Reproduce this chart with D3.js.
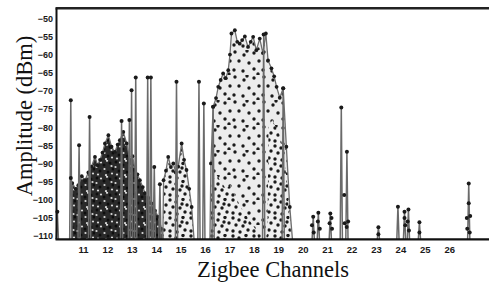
<!DOCTYPE html>
<html>
<head>
<meta charset="utf-8">
<script src="https://cdn.jsdelivr.net/npm/d3@7"></script>
<style>
  body { margin: 0; background: #fff; }
  .tick text { font-family: "Liberation Sans", Arial, sans-serif; font-weight: bold; fill: #1a1a1a; }
  .title { font-family: "Liberation Serif", "Times New Roman", serif; fill: #111; }
</style>
</head>
<body>
<div id="chart"></div>
<script>
const channels = [11, 12, 13, 14, 15, 16, 17, 18, 19, 20, 21, 22, 23, 24, 25, 26];
const yTicks = [-50, -55, -60, -65, -70, -75, -80, -85, -90, -95, -100, -105, -110];

// isolated peaks: [channel, dBm]
const spikes = [
  [9.95, -103.3], [10.50, -72.6], [10.84, -85.0], [11.27, -77.2], [12.58, -78.3],
  [12.90, -78.0], [12.99, -69.8], [13.16, -66.3], [13.65, -66.3], [13.78, -66.3],
  [13.92, -91.0], [14.15, -95.7], [14.83, -67.5], [15.75, -67.5], [15.95, -73.5],
  [16.33, -74.4], [18.40, -54.5], [19.20, -69.3], [20.43, -104.7], [20.64, -103.6],
  [21.13, -103.8], [21.58, -74.6], [21.81, -86.8], [23.10, -107.6], [23.90, -101.9],
  [24.17, -103.3], [24.33, -102.7], [24.78, -106.2], [26.80, -95.5]
];

// max-hold envelopes of the busy bands: [channel, dBm]
const bandA = [
  [10.52, -111], [10.56, -95.4], [10.70, -97], [10.81, -96], [10.95, -93.5], [11.08, -94.6],
  [11.22, -92.5], [11.35, -90.9], [11.49, -88.2], [11.60, -90.5], [11.70, -89], [11.80, -87],
  [11.90, -84.5], [12.04, -82.2], [12.17, -85.4], [12.31, -86.8], [12.42, -84.8], [12.51, -83.6],
  [12.65, -81.3], [12.79, -84.5], [12.92, -89.1], [13.03, -88], [13.13, -91.8], [13.23, -93],
  [13.33, -94.6], [13.45, -96.5], [13.54, -98.2], [13.68, -99.5], [13.81, -101], [13.95, -103],
  [14.08, -104.7], [14.22, -108], [14.29, -111]
];
const bandA2 = [
  [14.27, -111], [14.30, -94.6], [14.40, -92], [14.49, -88.2], [14.60, -91], [14.70, -90],
  [14.80, -92.5], [14.90, -90.9], [15.04, -84.5], [15.14, -89], [15.24, -91.8], [15.35, -97],
  [15.45, -102], [15.55, -111]
];
const bandB = [
  [16.20, -111], [16.24, -90], [16.33, -74.4], [16.45, -72], [16.54, -68.9], [16.64, -67],
  [16.74, -65.2], [16.85, -66.5], [16.95, -64.3], [17.02, -60], [17.08, -54.2], [17.22, -53.3],
  [17.32, -56.5], [17.42, -57], [17.52, -56], [17.63, -55], [17.76, -57.9], [17.87, -56.5],
  [17.97, -55.1], [18.10, -58.8], [18.24, -55.6], [18.37, -59.6], [18.49, -54.2], [18.58, -61.6],
  [18.72, -63.8], [18.83, -66], [18.93, -68.9], [19.06, -71.9], [19.20, -69.3], [19.33, -85.4],
  [19.47, -102], [19.58, -111]
];
const bandBLow = [
  [16.22, -111], [16.26, -96], [16.45, -93], [16.65, -95], [16.85, -97], [17.05, -96],
  [17.25, -99], [17.45, -102], [17.65, -104], [17.85, -106], [18.05, -108], [18.20, -111]
];
const bandBRight = [
  [18.55, -111], [18.60, -80], [18.75, -78], [18.90, -80], [19.05, -82], [19.20, -86],
  [19.35, -95], [19.45, -104], [19.55, -111]
];
const lowDots = [
  [10.50, -94], [20.38, -107], [20.45, -109], [20.62, -106], [20.70, -108], [21.10, -106.5],
  [21.18, -105], [21.20, -108], [21.70, -98.7], [21.72, -106.5], [21.80, -107.5], [21.86, -106],
  [23.10, -109.5], [24.17, -105], [24.20, -107], [24.30, -106], [24.35, -108.5], [24.78, -109],
  [26.72, -105], [26.80, -101], [26.86, -104.5], [26.74, -108], [26.84, -109]
];

const width = 489, height = 282;
const plotLeft = 56.5, plotRight = 489, plotTop = 8.3, plotBottom = 239.3;
const floor = -110.9;

const x = d3.scaleLinear().domain([9.915, 27.63]).range([plotLeft, plotRight]);
const y = d3.scaleLinear().domain([floor, -47.25]).range([plotBottom, plotTop]);

const svg = d3.select('#chart').append('svg')
  .attr('width', width)
  .attr('height', height);

const defs = svg.append('defs');

// textures for the dotted bands (irregular tiles so the grid doesn't show)
function dotPattern(id, w, h, bg, dotFill, r, pts, specks) {
  const p = defs.append('pattern')
    .attr('id', id)
    .attr('patternUnits', 'userSpaceOnUse')
    .attr('width', w)
    .attr('height', h);
  p.append('rect').attr('width', w).attr('height', h).attr('fill', bg);
  pts.forEach(([cx, cy]) => p.append('circle').attr('cx', cx).attr('cy', cy).attr('r', r).attr('fill', dotFill));
  (specks || []).forEach(([cx, cy]) => p.append('circle').attr('cx', cx).attr('cy', cy).attr('r', 1.1).attr('fill', '#d8d8d8'));
}
dotPattern('dense', 19, 16, '#2a2a2a', '#0e0e0e', 1.5,
  [[2, 2], [9, 5], [15, 3], [5, 11], [13, 12], [18, 9]],
  [[6, 2.5], [12, 0.8], [1.5, 7], [9.5, 9], [16.5, 6], [3, 14.5], [11, 15], [17, 13.5]]);
dotPattern('medium', 21, 18, '#efefef', '#1a1a1a', 1.7,
  [[2, 2], [8, 4], [15, 1.5], [19, 7], [5, 9], [12, 10], [2, 15], [9, 16], [17, 14], [14, 6]]);
dotPattern('sparse', 29, 25, '#ececec', '#1a1a1a', 1.7,
  [[3, 2], [12, 5], [22, 3], [27, 11], [7, 11], [17, 13], [2, 20], [11, 21], [22, 19], [26, 24], [15, 1]]);

const area = d3.area()
  .x(d => x(d[0]))
  .y0(y(floor))
  .y1(d => y(d[1]));
const line = d3.line()
  .x(d => x(d[0]))
  .y(d => y(d[1]));

const bands = [
  { data: bandB, fill: 'url(#sparse)' },
  { data: bandBLow, fill: 'url(#medium)' },
  { data: bandBRight, fill: 'url(#medium)' },
  { data: bandA, fill: 'url(#dense)' },
  { data: bandA2, fill: 'url(#medium)' }
];

const bandG = svg.append('g');
bands.forEach(b => {
  bandG.append('path')
    .attr('d', area(b.data))
    .attr('fill', b.fill);
});
[bandA, bandA2, bandB].forEach(b => {
  bandG.append('path')
    .attr('d', line(b))
    .attr('fill', 'none')
    .attr('stroke', '#6e6e6e')
    .attr('stroke-width', 1.3);
  bandG.selectAll(null)
    .data(b.slice(1, -1))
    .join('circle')
    .attr('cx', d => x(d[0]))
    .attr('cy', d => y(d[1]))
    .attr('r', 1.9)
    .attr('fill', '#1a1a1a');
});

// spikes: up-and-down trace with a marker on top
const spikeG = svg.append('g');
spikeG.selectAll('path')
  .data(spikes)
  .join('path')
  .attr('d', d => `M${x(d[0] - 0.045)},${y(floor)}L${x(d[0])},${y(d[1])}L${x(d[0] + 0.045)},${y(floor)}`)
  .attr('fill', 'none')
  .attr('stroke', '#6a6a6a')
  .attr('stroke-width', 1.5);
spikeG.selectAll('circle')
  .data(spikes.concat(lowDots))
  .join('circle')
  .attr('cx', d => x(d[0]))
  .attr('cy', d => y(d[1]))
  .attr('r', 2)
  .attr('fill', '#1a1a1a');

// frame
svg.append('line')
  .attr('x1', plotLeft - 1).attr('x2', plotRight)
  .attr('y1', plotTop).attr('y2', plotTop)
  .attr('stroke', '#222').attr('stroke-width', 2.6);
svg.append('line')
  .attr('x1', plotLeft).attr('x2', plotLeft)
  .attr('y1', plotTop).attr('y2', plotBottom)
  .attr('stroke', '#111').attr('stroke-width', 2);
svg.append('line')
  .attr('x1', plotLeft - 1).attr('x2', plotRight)
  .attr('y1', plotBottom).attr('y2', plotBottom)
  .attr('stroke', '#111').attr('stroke-width', 2.2);

// axes
const yAxis = svg.append('g')
  .attr('transform', `translate(${plotLeft},0)`)
  .call(d3.axisLeft(y).tickValues(yTicks).tickSize(0).tickPadding(3.5));
yAxis.select('.domain').remove();
yAxis.selectAll('text').attr('font-size', 9).attr('font-family', null);

const xAxis = svg.append('g')
  .attr('transform', `translate(0,${plotBottom})`)
  .call(d3.axisBottom(x).tickValues(channels).tickSize(0).tickPadding(6.5));
xAxis.select('.domain').remove();
xAxis.selectAll('text').attr('font-size', 9.5).attr('font-family', null);

// titles
svg.append('text')
  .attr('class', 'title')
  .attr('x', 273)
  .attr('y', 277)
  .attr('text-anchor', 'middle')
  .attr('font-size', 22.5)
  .text('Zigbee Channels');

svg.append('text')
  .attr('class', 'title')
  .attr('transform', 'translate(32,116) rotate(-90)')
  .attr('text-anchor', 'middle')
  .attr('font-size', 22.5)
  .text('Amplitude (dBm)');
</script>
</body>
</html>
